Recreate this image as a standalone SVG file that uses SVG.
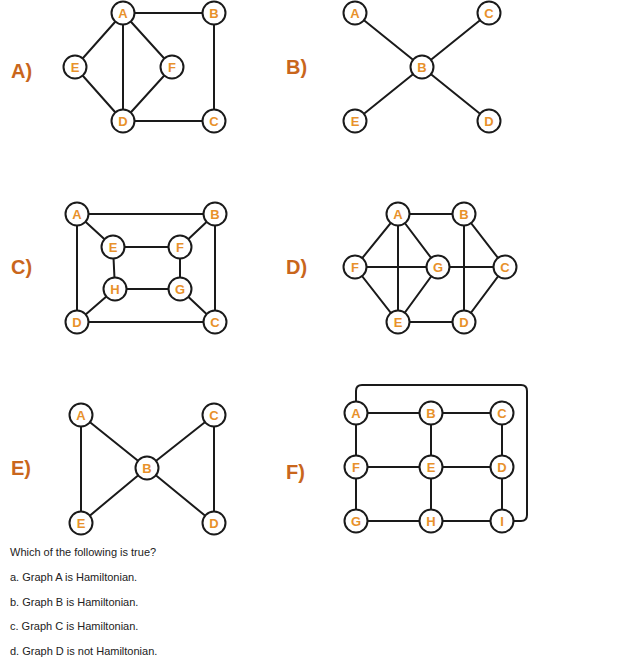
<svg xmlns="http://www.w3.org/2000/svg" width="622" height="662" viewBox="0 0 622 662">
<style>
.e{stroke:#1a1a1a;stroke-width:2;fill:none}
.n circle{fill:#fff;stroke:#1a1a1a;stroke-width:2}
.n text{font-family:"Liberation Sans",Arial,sans-serif;font-weight:bold;font-size:13px;fill:#e8912a;text-anchor:middle}
.lbl{font-family:"Liberation Sans",Arial,sans-serif;font-weight:bold;font-size:20px;fill:#c9661c}
.q{font-family:"Liberation Sans",Arial,sans-serif;font-size:11px;fill:#222}
</style>
<rect width="622" height="662" fill="#fff"/>
<text class="lbl" x="11" y="78">A)</text>
<text class="lbl" x="286" y="74">B)</text>
<text class="lbl" x="11" y="274">C)</text>
<text class="lbl" x="286" y="274">D)</text>
<text class="lbl" x="11" y="475">E)</text>
<text class="lbl" x="286" y="479">F)</text>
<g id="connectors">
<path class="e" d="M123,13H214V121H123M123,13V121M123,13L75,67L123,121M123,13L172,67L123,121"/>
<path class="e" d="M355,13L489,121M489,13L355,121"/>
<path class="e" d="M77,214H215V322H77ZM77,214L113,247M215,214L180,247M77,322L115,289M215,322L180,289M113,247H180V289H115Z"/>
<path class="e" d="M398,214H464L505,267L464,322H398L355,267ZM398,214V322M398,214L438,267L398,322M355,267H505M464,214V322"/>
<path class="e" d="M81,415V523L147,468L214,523V415L147,468L81,415"/>
<path class="e" d="M356,413H502V521H356ZM356,467H502M431,413V521M356,413V391Q356,385 362,385H521Q527,385 527,391V515Q527,521 521,521H502"/>
</g>
<g id="gA">
<g class="n" id="A_A"><circle cx="123" cy="13" r="11.5"/><text x="123" y="17.5">A</text></g>
<g class="n" id="A_B"><circle cx="214" cy="13" r="11.5"/><text x="214" y="17.5">B</text></g>
<g class="n" id="A_E"><circle cx="75" cy="67" r="11.5"/><text x="75" y="71.5">E</text></g>
<g class="n" id="A_F"><circle cx="172" cy="67" r="11.5"/><text x="172" y="71.5">F</text></g>
<g class="n" id="A_D"><circle cx="123" cy="121" r="11.5"/><text x="123" y="125.5">D</text></g>
<g class="n" id="A_C"><circle cx="214" cy="121" r="11.5"/><text x="214" y="125.5">C</text></g>
</g>
<g id="gB">
<g class="n" id="B_A"><circle cx="355" cy="13" r="11.5"/><text x="355" y="17.5">A</text></g>
<g class="n" id="B_C"><circle cx="489" cy="13" r="11.5"/><text x="489" y="17.5">C</text></g>
<g class="n" id="B_B"><circle cx="422" cy="67" r="11.5"/><text x="422" y="71.5">B</text></g>
<g class="n" id="B_E"><circle cx="355" cy="121" r="11.5"/><text x="355" y="125.5">E</text></g>
<g class="n" id="B_D"><circle cx="489" cy="121" r="11.5"/><text x="489" y="125.5">D</text></g>
</g>
<g id="gC">
<g class="n" id="C_A"><circle cx="77" cy="214" r="11.5"/><text x="77" y="218.5">A</text></g>
<g class="n" id="C_B"><circle cx="215" cy="214" r="11.5"/><text x="215" y="218.5">B</text></g>
<g class="n" id="C_E"><circle cx="113" cy="247" r="11.5"/><text x="113" y="251.5">E</text></g>
<g class="n" id="C_F"><circle cx="180" cy="247" r="11.5"/><text x="180" y="251.5">F</text></g>
<g class="n" id="C_H"><circle cx="115" cy="289" r="11.5"/><text x="115" y="293.5">H</text></g>
<g class="n" id="C_G"><circle cx="180" cy="289" r="11.5"/><text x="180" y="293.5">G</text></g>
<g class="n" id="C_D"><circle cx="77" cy="322" r="11.5"/><text x="77" y="326.5">D</text></g>
<g class="n" id="C_C"><circle cx="215" cy="322" r="11.5"/><text x="215" y="326.5">C</text></g>
</g>
<g id="gD">
<g class="n" id="D_A"><circle cx="398" cy="214" r="11.5"/><text x="398" y="218.5">A</text></g>
<g class="n" id="D_B"><circle cx="464" cy="214" r="11.5"/><text x="464" y="218.5">B</text></g>
<g class="n" id="D_F"><circle cx="355" cy="267" r="11.5"/><text x="355" y="271.5">F</text></g>
<g class="n" id="D_G"><circle cx="438" cy="267" r="11.5"/><text x="438" y="271.5">G</text></g>
<g class="n" id="D_C"><circle cx="505" cy="267" r="11.5"/><text x="505" y="271.5">C</text></g>
<g class="n" id="D_E"><circle cx="398" cy="322" r="11.5"/><text x="398" y="326.5">E</text></g>
<g class="n" id="D_D"><circle cx="464" cy="322" r="11.5"/><text x="464" y="326.5">D</text></g>
</g>
<g id="gE">
<g class="n" id="E_A"><circle cx="81" cy="415" r="11.5"/><text x="81" y="419.5">A</text></g>
<g class="n" id="E_C"><circle cx="214" cy="415" r="11.5"/><text x="214" y="419.5">C</text></g>
<g class="n" id="E_B"><circle cx="147" cy="468" r="11.5"/><text x="147" y="472.5">B</text></g>
<g class="n" id="E_E"><circle cx="81" cy="523" r="11.5"/><text x="81" y="527.5">E</text></g>
<g class="n" id="E_D"><circle cx="214" cy="523" r="11.5"/><text x="214" y="527.5">D</text></g>
</g>
<g id="gF">
<g class="n" id="F_A"><circle cx="356" cy="413" r="11.5"/><text x="356" y="417.5">A</text></g>
<g class="n" id="F_B"><circle cx="431" cy="413" r="11.5"/><text x="431" y="417.5">B</text></g>
<g class="n" id="F_C"><circle cx="502" cy="413" r="11.5"/><text x="502" y="417.5">C</text></g>
<g class="n" id="F_F"><circle cx="356" cy="467" r="11.5"/><text x="356" y="471.5">F</text></g>
<g class="n" id="F_E"><circle cx="431" cy="467" r="11.5"/><text x="431" y="471.5">E</text></g>
<g class="n" id="F_D"><circle cx="502" cy="467" r="11.5"/><text x="502" y="471.5">D</text></g>
<g class="n" id="F_G"><circle cx="356" cy="521" r="11.5"/><text x="356" y="525.5">G</text></g>
<g class="n" id="F_H"><circle cx="431" cy="521" r="11.5"/><text x="431" y="525.5">H</text></g>
<g class="n" id="F_I"><circle cx="502" cy="521" r="11.5"/><text x="502" y="525.5">I</text></g>
</g>
<text class="q" x="10" y="556">Which of the following is true?</text>
<text class="q" x="10" y="581">a. Graph A is Hamiltonian.</text>
<text class="q" x="10" y="606">b. Graph B is Hamiltonian.</text>
<text class="q" x="10" y="630">c. Graph C is Hamiltonian.</text>
<text class="q" x="10" y="655">d. Graph D is not Hamiltonian.</text>
</svg>
